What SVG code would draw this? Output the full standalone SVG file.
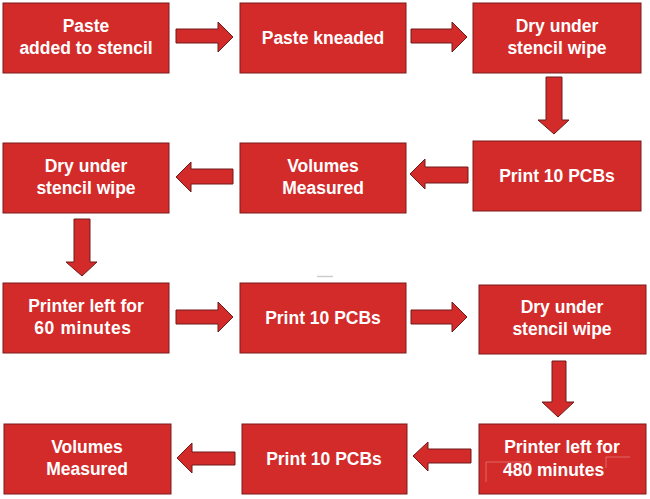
<svg xmlns="http://www.w3.org/2000/svg" width="650" height="499" viewBox="0 0 650 499">
<style>
.box{fill:#d32a2a;stroke:#7d1d1d;stroke-width:1}
.arr{fill:#d32a2a;stroke:#6e1a1a;stroke-width:1;stroke-linejoin:miter}
text{font-family:"Liberation Sans",Arial,sans-serif;font-weight:bold;font-size:17.5px;fill:#ffffff;text-anchor:middle}
.art{stroke:#ffffff;stroke-opacity:0.35;stroke-width:0.8;fill:none}
</style>
<rect width="650" height="499" fill="#ffffff"/>
<g id="connectors">
<polygon class="arr" points="176,29 218,29 218,22 233,37 218,52 218,43 176,43"/>
<polygon class="arr" points="411,29 452,29 452,22 467,37 452,52 452,43 411,43"/>
<polygon class="arr" points="546,77 562,77 562,120 569,120 554,134 538,120 546,120"/>
<polygon class="arr" points="468,167 425,167 425,159 410,174 425,189 425,183 468,183"/>
<polygon class="arr" points="233,169 191,169 191,162 176,177 191,192 191,184 233,184"/>
<polygon class="arr" points="74,219 90,219 90,262 97,262 82,276 66,262 74,262"/>
<polygon class="arr" points="176,310 218,310 218,302 233,317 218,332 218,324 176,324"/>
<polygon class="arr" points="411,310 452,310 452,302 467,317 452,332 452,324 411,324"/>
<polygon class="arr" points="552,361 566,361 566,402 574,402 558,417 542,402 552,402"/>
<polygon class="arr" points="471,449 428,449 428,442 413,456 428,471 428,463 471,463"/>
<polygon class="arr" points="235,452 192,452 192,443 177,458 192,473 192,465 235,465"/>
</g>
<g id="n1"><rect class="box" x="3" y="3" width="166" height="70"/><text x="86" y="32">Paste</text><text x="86" y="54">added to stencil</text></g>
<g id="n2"><rect class="box" x="240" y="3" width="166" height="70"/><text x="323" y="44">Paste kneaded</text></g>
<g id="n3"><rect class="box" x="473" y="3" width="168" height="70"/><text x="557" y="32">Dry under</text><text x="557" y="54">stencil wipe</text></g>
<g id="n4"><rect class="box" x="473" y="141" width="168" height="70"/><text x="557" y="182">Print 10 PCBs</text></g>
<g id="n5"><rect class="box" x="240" y="143" width="166" height="70"/><text x="323" y="172">Volumes</text><text x="323" y="194">Measured</text></g>
<g id="n6"><rect class="box" x="3" y="143" width="166" height="70"/><text x="86" y="172">Dry under</text><text x="86" y="194">stencil wipe</text></g>
<g id="n7"><rect class="box" x="3" y="283" width="166" height="70"/><text x="86" y="312">Printer left for</text><text x="83" y="334" letter-spacing="0.6">60 minutes</text></g>
<g id="n8"><rect class="box" x="240" y="283" width="166" height="70"/><text x="323" y="324">Print 10 PCBs</text></g>
<g id="n9"><rect class="box" x="479" y="285" width="167" height="69"/><text x="562" y="313">Dry under</text><text x="562" y="335">stencil wipe</text></g>
<g id="n10"><rect class="box" x="479" y="424" width="167" height="70"/><text x="562" y="453">Printer left for</text><text x="503" y="476" style="text-anchor:start">480 minutes</text>
<path class="art" d="M486,482 V462 H531 M606,468 V457 H630"/></g>
<g id="n11"><rect class="box" x="242" y="424" width="165" height="70"/><text x="324" y="465">Print 10 PCBs</text></g>
<g id="n12"><rect class="box" x="4" y="424" width="167" height="70"/><text x="87" y="453">Volumes</text><text x="87" y="475">Measured</text></g>
<line x1="317" y1="276.5" x2="333" y2="276.5" stroke="#cccccc" stroke-width="1.5"/>
</svg>
